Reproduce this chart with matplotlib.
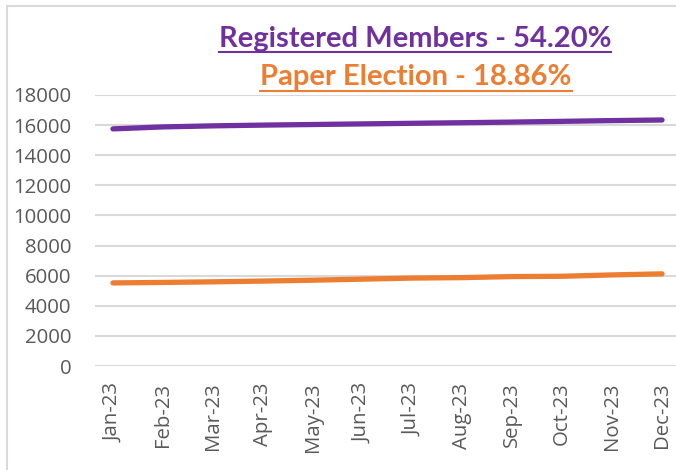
import matplotlib
matplotlib.use('Agg')
import matplotlib.pyplot as plt
from matplotlib.patches import Rectangle
from matplotlib.lines import Line2D

# data
months = ['Jan-23', 'Feb-23', 'Mar-23', 'Apr-23', 'May-23', 'Jun-23',
          'Jul-23', 'Aug-23', 'Sep-23', 'Oct-23', 'Nov-23', 'Dec-23']
registered = [15750, 15880, 15950, 16000, 16040, 16080,
              16120, 16160, 16200, 16250, 16300, 16340]
paper = [5520, 5550, 5590, 5640, 5700, 5770,
         5840, 5870, 5940, 5960, 6050, 6120]
yticks = [0, 2000, 4000, 6000, 8000, 10000, 12000, 14000, 16000, 18000]

purple = '#7030A0'
orange = '#ED7D31'
grey_text = '#595959'

plt.rcParams['font.family'] = ['Open Sans', 'DejaVu Sans']

fig = plt.figure(figsize=(6.76, 4.70), dpi=100)
ax = fig.add_axes([95/676, 104/470, 1 - 95/676, 271/470])

x = list(range(len(months)))
ax.plot(x, registered, color=purple, lw=3.8, solid_capstyle='round')
ax.plot(x, paper, color=orange, lw=3.8, solid_capstyle='round')

ax.set_ylim(0, 18000)
ax.set_xlim(-0.36, 11.28)
ax.set_yticks(yticks)
ax.set_yticklabels([str(v) for v in yticks])
ax.set_xticks(x)
ax.set_xticklabels(months, rotation=90)
ax.grid(axis='y', color='#D9D9D9', lw=1.5)
ax.set_axisbelow(True)
for s in ax.spines.values():
    s.set_visible(False)
ax.tick_params(axis='both', length=0, labelsize=14.7, colors=grey_text)
ax.tick_params(axis='y', pad=17)
ax.tick_params(axis='x', pad=12)

# outer chart border
fig.patches.append(Rectangle((7/676, -0.2), 1.2, 1.2 + (464/470 - 1.0),
                             transform=fig.transFigure, fill=False,
                             edgecolor='#D9D9D9', lw=1.5))

# underlined titles
t1 = fig.text(415/676, 1 - 47/470, 'Registered Members - 54.20%', ha='center',
              va='baseline', fontsize=21, fontweight='bold', color=purple,
              family=['Lato', 'DejaVu Sans'])
t2 = fig.text(416/676, 1 - 85/470, 'Paper Election - 18.86%', ha='center',
              va='baseline', fontsize=21, fontweight='bold', color=orange,
              family=['Lato', 'DejaVu Sans'])
fig.canvas.draw()
for t, uy, c in [(t1, 52, purple), (t2, 91, orange)]:
    bb = t.get_window_extent()
    x0, x1 = bb.x0 / 676, bb.x1 / 676
    fig.lines.append(Line2D([x0, x1], [1 - uy/470, 1 - uy/470],
                            transform=fig.transFigure, color=c, lw=1.5))

fig.savefig('out.png', dpi=100)
